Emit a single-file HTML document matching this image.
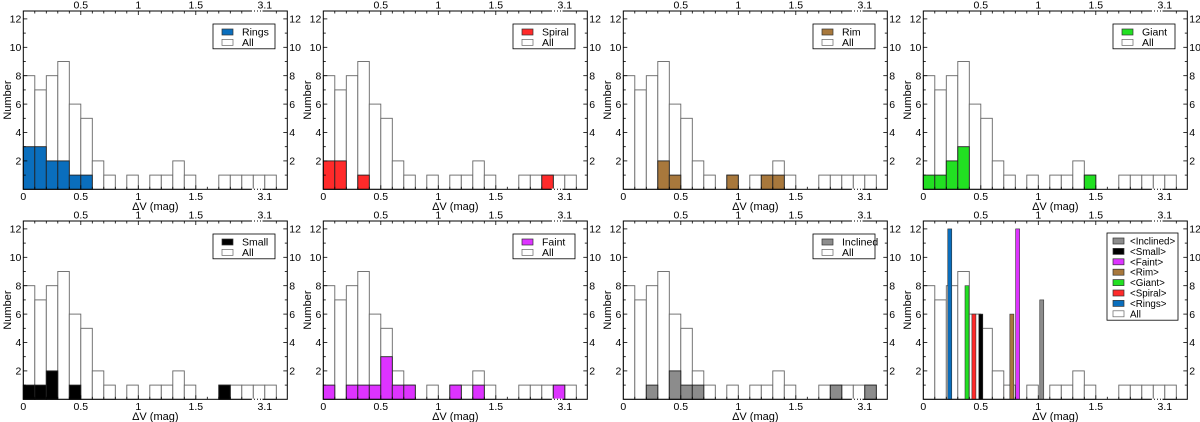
<!DOCTYPE html>
<html><head><meta charset="utf-8">
<style>
html,body{margin:0;padding:0;background:#fff;}
svg{display:block;font-family:"Liberation Sans",sans-serif;}
</style></head>
<body>
<svg id="fig" width="1200" height="422" viewBox="0 0 1200 422" xmlns="http://www.w3.org/2000/svg"></svg>
<script>
// bins of 0.1 mag; bin index 0..21 (last bins are a compressed tail up to 3.1)
const allCounts = [8,7,8,9,6,5,2,1,0,1,0,1,1,2,1,0,0,1,1,1,1,1];
const ringsCounts = [3,3,2,2,1,1,0,0,0,0,0,0,0,0,0,0,0,0,0,0,0,0];
const spiralCounts = [2,2,0,1,0,0,0,0,0,0,0,0,0,0,0,0,0,0,0,1,0,0];
const rimCounts = [0,0,0,2,1,0,0,0,0,1,0,0,1,1,0,0,0,0,0,0,0,0];
const giantCounts = [1,1,2,3,0,0,0,0,0,0,0,0,0,0,1,0,0,0,0,0,0,0];
const smallCounts = [1,1,2,0,1,0,0,0,0,0,0,0,0,0,0,0,0,1,0,0,0,0];
const faintCounts = [1,0,1,1,1,3,1,1,0,0,0,1,0,1,0,0,0,0,0,0,1,0];
const inclinedCounts = [0,0,1,0,2,1,1,0,0,0,0,0,0,0,0,0,0,0,1,0,0,1];
const subsetNames = ["Rings","Spiral","Rim","Giant","Small","Faint","Inclined"];
const subsetColors = ["#0a6ebd","#ff2a2a","#a8783c","#22e022","#000000","#dd33ff","#8c8c8c"];
// mean values (mag) and bar heights for the summary panel
const meanNames = ["Inclined","Small","Faint","Rim","Giant","Spiral","Rings"];
const meanValues = [1.03,0.50,0.82,0.77,0.38,0.44,0.23];
const meanHeights = [7,6,12,6,8,6,12];
const meanColors = ["#8c8c8c","#000000","#dd33ff","#a8783c","#22e022","#ff2a2a","#0a6ebd"];
const xTickValues = [0,0.5,1,1.5,2.1];
const xTickLabels = ["0","0.5","1","1.5","3.1"];
const yTickValues = [2,4,6,8,10,12];

const NS="http://www.w3.org/2000/svg";
const svg=document.getElementById('fig');
function mk(tag,attrs,parent){const e=document.createElementNS(NS,tag);for(const k in attrs)e.setAttribute(k,attrs[k]);(parent||svg).appendChild(e);return e;}

const PX0=23.3, PX1=287.3, BW=11.5, PTOP=11, PBOT=189.3, UNIT=14.2;
function xs(v,ox){return ox+PX0+v*10*BW;}
function ys(v,oy){return oy+PBOT-v*UNIT;}

function drawAxes(g,ox,oy){
  const fr=mk('rect',{x:ox+PX0,y:oy+PTOP,width:PX1-PX0,height:PBOT-PTOP,fill:'none',stroke:'#000','stroke-width':1},g);
  
  for(let i=1;i<=22;i++){
    const x=ox+PX0+i*BW; const maj=(i%5===0);
    if(i===20||i===21) continue;
    const L=maj?4:2.5;
    mk('line',{x1:x,x2:x,y1:oy+PBOT,y2:oy+PBOT-L,stroke:'#000','stroke-width':0.8},g);
    mk('line',{x1:x,x2:x,y1:oy+PTOP,y2:oy+PTOP+L,stroke:'#000','stroke-width':0.8},g);
  }
  mk('line',{x1:ox+PX0+19.8*BW,x2:ox+PX0+20.8*BW,y1:oy+PBOT,y2:oy+PBOT,stroke:'#fff','stroke-width':1.5},g);
  mk('line',{x1:ox+PX0+19.8*BW,x2:ox+PX0+20.8*BW,y1:oy+PBOT,y2:oy+PBOT,stroke:'#000','stroke-width':1,'stroke-dasharray':'1,2'},g);
  mk('line',{x1:ox+PX0+19.8*BW,x2:ox+PX0+20.8*BW,y1:oy+PTOP,y2:oy+PTOP,stroke:'#fff','stroke-width':1.5},g);
  mk('line',{x1:ox+PX0+19.8*BW,x2:ox+PX0+20.8*BW,y1:oy+PTOP,y2:oy+PTOP,stroke:'#000','stroke-width':1,'stroke-dasharray':'1,2'},g);
  for(let v=1;v<=12;v++){
    const y=ys(v,oy); const L=(v%2===0)?4:2.5;
    mk('line',{x1:ox+PX0,x2:ox+PX0+L,y1:y,y2:y,stroke:'#000','stroke-width':0.8},g);
    mk('line',{x1:ox+PX1,x2:ox+PX1-L,y1:y,y2:y,stroke:'#000','stroke-width':0.8},g);
  }
  yTickValues.forEach(v=>{
    const y=ys(v,oy);
    const t1=mk('text',{x:ox+PX0-2,y:y+3.7,'font-size':10.5,'text-anchor':'end'},g);t1.textContent=v;
    
    const t2=mk('text',{x:ox+PX1+2,y:y+3.7,'font-size':10.5,'text-anchor':'start'},g);t2.textContent=v;
    
  });
  xTickValues.forEach((v,i)=>{
    const x=xs(v,ox);
    const t=mk('text',{x:x,y:oy+PBOT+10.5,'font-size':10.5,'text-anchor':'middle'},g);t.textContent=xTickLabels[i];
    
    if(i>0){const t2=mk('text',{x:x,y:oy+PTOP-2.5,'font-size':10.5,'text-anchor':'middle'},g);t2.textContent=xTickLabels[i];
    }
  });
  const xt=mk('text',{x:ox+PX0+(PX1-PX0)/2,y:oy+PBOT+20.5,'font-size':11,'text-anchor':'middle'},g);xt.textContent='ΔV (mag)';
  
  const yt=mk('text',{x:0,y:0,'font-size':11,'text-anchor':'middle',transform:`translate(${ox+11},${oy+100}) rotate(-90)`},g);yt.textContent='Number';
  
}

function drawAll(g,ox,oy){
  allCounts.forEach((c,i)=>{
    if(!c)return;
    const r=mk('rect',{x:ox+PX0+i*BW,y:ys(c,oy),width:BW,height:c*UNIT,fill:'#fff',stroke:'#666','stroke-width':0.9},g);
    
  });
}

function legend(g,x,y,w,entries,sx,tx,fs){
  const h=entries.length*10.4+4;
  const b=mk('rect',{x:x,y:y,width:w,height:h,fill:'#fff',stroke:'#000','stroke-width':0.8},g);
  
  entries.forEach((e,i)=>{
    const yy=y+3+i*10.4;
    const s=mk('rect',{x:x+sx,y:yy+2,width:11,height:6,fill:e[1],stroke:e[1]==='#fff'?'#666':'#333','stroke-width':0.7},g);
    
    const t=mk('text',{x:x+tx,y:yy+8.5,'font-size':fs},g);t.textContent=e[0];
    
  });
}

const subsetData=[ringsCounts,spiralCounts,rimCounts,giantCounts,smallCounts,faintCounts,inclinedCounts];
for(let p=0;p<8;p++){
  const ox=(p%4)*300, oy=Math.floor(p/4)*210;
  const g=mk('g',{});
  
  drawAll(g,ox,oy);
  if(p<7){
    subsetData[p].forEach((c,i)=>{
      if(!c)return;
      const r=mk('rect',{x:ox+PX0+i*BW,y:ys(c,oy),width:BW,height:c*UNIT,fill:subsetColors[p],stroke:'#222','stroke-width':0.9},g);
      
    });
    legend(g,ox+213,oy+24,62,[[subsetNames[p],subsetColors[p]],['All','#fff']],9,29,10.5);
  } else {
    meanValues.forEach((v,i)=>{
      const h=meanHeights[i];
      const r=mk('rect',{x:xs(v,ox)-2,y:ys(h,oy),width:4,height:h*UNIT,fill:meanColors[i],stroke:'#333','stroke-width':0.6},g);
      
    });
    const ent=meanNames.map((n,i)=>['<'+n+'>',meanColors[i]]);ent.push(['All','#fff']);
    legend(g,ox+207,oy+23,71,ent,6,23,9.8);
  }
  drawAxes(g,ox,oy);
}
</script>
</body></html>
